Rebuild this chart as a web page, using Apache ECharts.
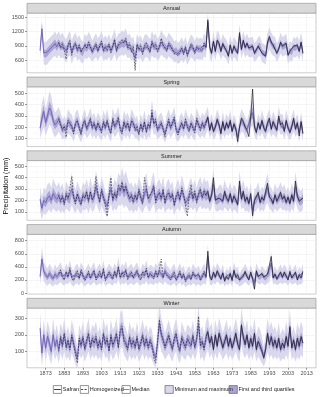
<!DOCTYPE html>
<html>
<head>
<meta charset="utf-8">
<script src="https://cdn.jsdelivr.net/npm/echarts@6/dist/echarts.min.js"></script>
<style>
  html, body { margin: 0; padding: 0; background: #fff; }
  #chart { width: 320px; height: 397px; }
</style>
</head>
<body>
<div id="chart"></div>
<script>
// years: median / bands run 1870-2011, homogenized 1880-1959, Safran 1959-2011
var firstYear = 1870, homStart = 1880, safStart = 1959;
var panelNames = ['Annual', 'Spring', 'Summer', 'Autumn', 'Winter'];
var xTicks = [1873, 1883, 1893, 1903, 1913, 1923, 1933, 1943, 1953, 1963, 1973, 1983, 1993, 2003, 2013];
var xMinor = [1868, 1878, 1888, 1898, 1908, 1918, 1928, 1938, 1948, 1958, 1968, 1978, 1988, 1998, 2008];

// ---- Annual ----
var annualMed = [
  800,1260,750,730,770,820,860,900,950,880,
  960,880,920,860,790,900,960,770,880,930,
  820,880,790,760,900,850,930,880,790,860,
  910,820,890,960,820,870,830,910,800,890,
  990,820,910,930,970,940,1000,880,910,820,
  860,640,900,840,880,780,880,910,860,800,
  960,880,910,820,870,980,910,880,830,930,
  880,840,770,800,740,780,840,760,860,720,
  820,900,860,780,860,830,840,820,920,860,
  1400,860,760,980,800,1000,940,800,930,860,
  820,700,900,760,880,820,760,1120,830,1000,
  860,940,860,870,880,760,800,880,900,760,
  740,700,960,1060,960,900,880,760,840,960,
  880,900,940,720,800,760,880,850,900,800,
  960,760];
var annualRng = [
  200,180,240,240,250,240,250,240,260,250,
  250,240,260,240,250,240,260,250,240,250,
  240,250,240,230,250,240,260,250,230,240,
  250,240,230,260,240,250,230,240,230,250,
  260,240,250,240,260,250,270,240,250,230,
  240,260,250,230,240,230,250,240,230,240,
  260,240,250,230,240,260,240,230,230,250,
  240,230,220,230,220,230,240,220,230,220,
  230,240,230,220,230,220,230,220,240,220,
  200,220,200,230,210,230,220,200,220,210,
  210,200,220,200,210,200,200,230,200,220,
  210,220,200,210,210,200,200,210,210,200,
  200,200,220,230,220,210,210,200,200,220,
  210,210,220,200,200,200,210,200,210,200,
  220,200];
var annualIqr = [
  60,110,80,80,85,80,85,85,90,85,
  85,80,90,80,85,80,90,85,80,85,
  80,85,80,75,85,80,90,85,75,80,
  85,80,75,90,80,85,75,80,75,85,
  90,80,85,80,90,85,95,80,85,75,
  80,90,85,75,80,75,85,80,75,80,
  90,80,85,75,80,90,80,75,75,85,
  80,75,70,75,70,75,80,70,75,70,
  75,80,75,70,75,70,75,70,80,70,
  100,70,65,75,70,75,70,65,70,65,
  65,60,70,60,65,60,60,75,60,70,
  65,70,60,65,65,60,60,65,65,60,
  60,60,70,75,70,65,65,60,60,70,
  65,65,70,60,60,60,65,60,65,60,
  70,60];
var annualHom = [
  980,860,950,800,620,920,1010,700,900,960,
  800,920,760,720,940,860,980,880,760,860,
  940,780,900,1000,780,880,800,940,760,900,
  1040,780,930,960,1020,960,1060,860,940,780,
  880,380,940,820,900,720,900,960,860,760,
  1000,880,940,780,880,1060,920,900,790,960,
  900,820,740,780,700,760,850,720,880,680,
  820,940,880,740,880,820,850,800,960,860];
var annualSaf = [
  870,
  1450,880,740,1000,780,1020,960,780,950,860,
  800,680,920,740,900,800,740,1180,820,1020,
  870,960,850,890,900,740,780,900,920,740,
  720,680,980,1100,980,920,900,740,830,980,
  900,920,960,700,780,740,900,860,920,780,
  980,740];

// ---- Spring ----
var springMed = [
  190,280,340,240,300,370,340,260,220,240,
  270,230,180,200,180,250,230,210,160,230,
  250,200,150,220,250,190,220,260,200,230,
  180,230,200,170,240,200,250,190,160,260,
  210,230,270,190,160,240,200,230,180,250,
  230,190,200,150,220,180,240,170,220,200,
  320,230,250,180,210,230,190,140,210,250,
  200,230,270,180,150,200,230,190,250,210,
  180,230,200,170,260,220,190,230,200,240,
  280,180,230,170,200,260,220,150,240,180,
  230,200,250,170,220,190,110,200,260,240,
  200,180,230,300,330,210,160,230,190,250,
  200,170,230,260,190,240,210,180,280,220,
  230,170,250,200,160,210,260,190,230,150,
  240,150];
var springRng = [
  90,130,140,120,130,150,140,120,110,110,
  110,100,90,100,90,110,100,100,90,100,
  110,100,90,100,110,90,100,110,100,100,
  90,100,100,90,110,100,110,90,90,110,
  100,100,110,90,90,110,100,100,90,110,
  100,90,100,80,100,90,110,90,100,100,
  120,100,110,90,100,100,90,80,100,110,
  100,100,110,90,80,100,100,90,110,100,
  90,100,100,90,110,100,90,100,100,100,
  100,80,90,80,90,100,90,80,100,80,
  90,80,100,80,90,80,70,90,100,90,
  90,80,90,100,120,90,80,90,80,100,
  90,80,90,100,80,100,90,80,100,90,
  90,80,100,90,80,90,100,80,90,80,
  90,80];
var springIqr = [
  35,50,55,45,50,60,55,45,40,40,
  40,38,35,38,35,42,38,38,34,38,
  42,38,34,38,42,34,38,42,38,38,
  34,38,38,34,42,38,42,34,34,42,
  38,38,42,34,34,42,38,38,34,42,
  38,34,38,30,38,34,42,34,38,38,
  46,38,42,34,38,38,34,30,38,42,
  38,38,42,34,30,38,38,34,42,38,
  34,38,38,34,42,38,34,38,38,38,
  36,30,34,30,34,36,34,30,36,30,
  34,30,36,30,34,30,26,34,36,34,
  34,30,34,38,50,34,30,34,30,36,
  34,30,34,36,30,36,34,30,36,34,
  34,30,36,34,30,34,36,30,34,30,
  34,30];
var springHom = [
  280,220,170,210,110,260,240,200,140,240,
  260,190,130,230,260,180,230,280,190,240,
  170,240,190,150,250,190,260,180,140,280,
  200,240,290,170,140,250,190,240,160,260,
  240,170,210,130,230,160,250,150,230,190,
  350,230,270,170,200,240,180,110,200,270,
  190,240,290,170,130,190,240,180,270,200,
  160,240,190,150,280,220,170,240,190,250];
var springSaf = [
  240,
  290,170,240,160,200,270,220,140,250,170,
  240,190,260,160,230,180,70,200,280,250,
  200,170,115,290,540,200,150,240,180,260,
  190,160,240,280,180,250,210,170,300,220,
  240,160,260,190,150,200,280,180,240,120,
  250,140];

// ---- Summer ----
var summerMed = [
  210,130,200,180,220,240,200,260,230,210,
  240,200,230,180,250,220,210,300,230,190,
  250,210,180,240,220,260,200,270,210,230,
  320,250,200,280,230,180,150,240,300,210,
  260,230,300,280,330,270,310,260,220,240,
  200,240,210,280,230,190,260,300,220,210,
  270,310,200,240,260,220,280,190,240,260,
  220,250,170,230,260,210,290,240,180,200,
  240,270,220,260,200,250,280,230,270,240,
  260,200,240,340,210,200,220,230,200,260,
  220,200,250,190,230,210,170,330,220,260,
  200,220,180,240,110,200,210,250,190,220,
  200,260,310,230,210,180,240,200,220,250,
  210,230,190,220,180,240,200,320,230,200,
  190,220];
var summerRng = [
  110,100,110,110,120,120,110,130,120,110,
  120,110,120,100,120,110,110,140,120,100,
  120,110,100,120,110,130,110,130,110,120,
  140,120,110,130,120,100,100,120,130,110,
  130,120,140,130,160,140,150,130,120,120,
  110,120,110,130,120,100,130,140,110,110,
  130,140,110,120,130,110,130,100,120,130,
  110,120,100,110,130,110,130,120,100,100,
  120,130,110,120,110,120,130,110,130,120,
  120,100,110,130,100,100,110,110,100,120,
  100,100,110,100,110,100,90,130,100,120,
  100,110,90,110,80,100,100,110,90,100,
  100,110,130,100,100,90,110,100,100,110,
  100,110,90,100,90,110,100,130,100,100,
  90,100];
var summerIqr = [
  40,38,40,40,45,45,40,48,45,40,
  45,40,45,38,45,40,40,52,45,38,
  45,40,38,45,40,48,40,48,40,45,
  52,45,40,48,45,38,38,45,48,40,
  48,45,52,48,58,52,55,48,45,45,
  40,45,40,48,45,38,48,52,40,40,
  48,52,40,45,48,40,48,38,45,48,
  40,45,38,40,48,40,48,45,38,38,
  45,48,40,45,40,45,48,40,48,45,
  45,38,40,50,38,38,40,40,38,45,
  38,38,40,38,40,38,34,48,38,45,
  38,40,34,40,30,38,38,40,34,38,
  38,40,48,38,38,34,40,38,38,40,
  38,40,34,38,34,40,38,48,38,38,
  34,38];
var summerHom = [
  250,190,240,160,260,210,200,410,230,170,
  260,200,160,250,220,280,190,280,200,240,
  410,260,180,300,220,160,60,250,400,200,
  270,220,330,290,360,280,330,260,210,250,
  180,250,200,300,220,170,400,320,210,200,
  280,330,180,250,270,210,300,170,250,270,
  220,260,150,240,280,200,310,250,160,60,
  250,340,210,280,180,260,300,220,290,240];
var summerSaf = [
  250,
  280,190,250,400,200,190,220,230,190,280,
  220,190,260,180,240,200,160,370,210,280,
  190,230,170,260,65,200,210,270,180,230,
  200,280,350,230,210,170,250,190,230,270,
  210,240,180,230,170,250,190,370,240,190,
  180,220];

// ---- Autumn ----
var autumnMed = [
  250,520,330,280,240,300,260,220,290,250,
  280,320,260,230,300,260,340,250,220,280,
  300,240,320,270,220,260,300,240,280,320,
  230,270,300,250,340,220,260,300,270,240,
  310,260,380,250,300,270,330,240,280,300,
  250,280,320,260,230,300,270,340,250,290,
  280,250,310,270,330,290,250,340,280,260,
  230,270,300,220,260,310,240,280,200,250,
  270,230,300,260,240,280,220,260,300,250,
  560,260,220,300,250,320,280,230,300,200,
  260,230,290,210,330,250,270,200,240,260,
  310,260,220,300,230,160,320,260,240,290,
  250,230,280,300,460,240,280,230,260,300,
  250,300,270,220,310,240,260,300,220,270,
  240,310];
var autumnRng = [
  130,180,150,140,130,150,140,120,150,130,
  140,150,130,120,150,130,160,130,120,140,
  150,130,150,140,120,130,150,130,140,150,
  120,140,150,130,160,120,130,150,140,130,
  150,130,170,130,150,140,160,130,140,150,
  130,140,150,130,120,150,140,160,130,140,
  140,130,150,140,160,140,130,160,140,130,
  120,140,150,120,130,150,130,140,110,130,
  140,120,150,130,130,140,120,130,150,130,
  180,130,110,140,120,140,130,110,140,100,
  120,110,130,110,140,120,130,100,120,120,
  140,120,110,130,110,130,140,120,110,130,
  120,110,130,130,170,110,130,110,120,140,
  120,140,120,110,140,110,120,140,110,130,
  110,140];
var autumnIqr = [
  45,70,55,50,45,55,50,42,55,45,
  50,55,45,42,55,45,58,45,42,50,
  55,45,55,50,42,45,55,45,50,55,
  42,50,55,45,58,42,45,55,50,45,
  55,45,62,45,55,50,58,45,50,55,
  45,50,55,45,42,55,50,58,45,50,
  50,45,55,50,58,50,45,58,50,45,
  42,50,55,42,45,55,45,50,40,45,
  50,42,55,45,45,50,42,45,55,45,
  70,45,40,50,42,50,45,40,50,36,
  42,40,45,40,50,42,45,36,42,42,
  50,42,40,45,40,45,50,42,40,45,
  42,40,45,45,60,40,45,40,42,50,
  42,50,42,40,50,40,42,50,40,45,
  40,50];
var autumnHom = [
  300,350,240,200,330,240,390,230,190,280,
  340,220,360,260,190,240,330,220,300,350,
  200,260,330,230,380,190,250,320,260,210,
  340,240,410,230,320,250,360,210,270,320,
  230,290,350,240,200,320,260,380,230,300,
  290,220,340,250,360,520,230,300,270,240,
  200,260,320,190,250,330,220,290,170,240,
  280,200,320,250,220,290,190,250,330,240];
var autumnSaf = [
  240,
  640,250,200,320,240,340,270,210,310,180,
  250,210,300,190,350,240,280,200,230,260,
  330,250,200,320,210,60,340,250,230,300,
  240,210,290,320,560,230,290,210,270,320,
  240,320,260,200,330,230,250,320,200,280,
  230,330];

// ---- Winter ----
var winterMed = [
  240,90,200,120,190,150,100,200,130,170,
  110,180,140,200,130,160,120,190,150,100,
  60,170,140,180,120,160,200,130,170,150,
  180,130,160,120,200,150,170,110,190,140,
  160,200,130,220,240,170,150,120,180,140,
  160,130,180,120,150,190,140,170,130,160,
  140,90,60,150,270,200,170,130,160,190,
  150,120,170,200,140,110,180,150,130,170,
  160,140,190,130,170,260,140,160,120,180,
  210,150,180,120,190,140,200,170,130,160,
  190,140,170,130,160,200,150,120,250,180,
  150,190,130,170,140,200,120,160,140,110,
  70,120,200,150,180,140,160,130,170,120,
  150,130,180,140,240,130,160,120,170,140,
  180,150];
var winterRng = [
  100,80,90,80,90,90,80,100,80,90,
  80,90,90,100,80,90,80,100,90,80,
  70,90,80,100,80,90,100,80,90,90,
  100,80,90,80,100,90,100,80,100,90,
  90,100,80,110,110,90,90,80,100,90,
  90,80,100,80,90,100,90,90,80,90,
  90,70,60,90,120,100,90,80,90,100,
  90,80,90,100,90,80,100,90,80,90,
  90,90,100,80,90,120,90,90,80,100,
  100,90,90,80,100,90,100,90,80,90,
  100,90,90,80,90,100,90,80,110,100,
  90,100,80,90,90,100,80,90,90,80,
  60,80,100,90,100,90,90,80,100,80,
  90,80,100,90,110,80,90,80,100,90,
  100,90];
var winterIqr = [
  36,30,34,30,34,34,30,36,30,34,
  30,34,34,36,30,34,30,36,34,30,
  26,34,30,36,30,34,36,30,34,34,
  36,30,34,30,36,34,36,30,36,34,
  34,36,30,40,40,34,34,30,36,34,
  34,30,36,30,34,36,34,34,30,34,
  34,26,22,34,44,36,34,30,34,36,
  34,30,34,36,34,30,36,34,30,34,
  34,34,36,30,34,44,34,34,30,36,
  36,34,34,30,36,34,36,34,30,34,
  36,34,34,30,34,36,34,30,40,36,
  34,36,30,34,34,36,30,34,34,30,
  22,30,36,34,36,34,34,30,36,30,
  34,30,36,34,40,30,34,30,36,34,
  36,34];
var winterHom = [
  100,190,130,210,120,170,110,200,140,80,
  30,180,130,190,110,170,210,120,180,150,
  190,120,170,110,210,140,180,100,200,130,
  170,210,120,230,250,160,140,110,190,130,
  170,120,190,110,150,200,130,180,120,170,
  130,60,30,160,290,210,170,120,160,200,
  150,110,180,210,130,100,190,150,120,180,
  170,130,200,120,180,310,130,160,110,190];
var winterSaf = [
  190,
  220,150,190,110,200,130,210,170,120,160,
  200,130,180,120,160,210,140,110,260,190,
  140,200,120,180,130,210,110,160,130,100,
  60,110,210,140,190,130,170,120,180,110,
  150,120,190,130,250,120,170,110,180,130,
  190,150];

// y axis ticks (major / minor)
var annualTicks = [600, 900, 1200, 1500], annualMinor = [450, 750, 1050, 1350];
var springTicks = [100, 200, 300, 400, 500], springMinor = [50, 150, 250, 350, 450, 550];
var summerTicks = [100, 200, 300, 400, 500], summerMinor = [50, 150, 250, 350, 450];
var autumnTicks = [0, 200, 400, 600, 800], autumnMinor = [100, 300, 500, 700];
var winterTicks = [100, 200, 300], winterMinor = [50, 150, 250, 350];

var panels = [
  {med: annualMed, rng: annualRng, iqr: annualIqr, hom: annualHom, saf: annualSaf, ticks: annualTicks, minor: annualMinor, min: 332, max: 1591},
  {med: springMed, rng: springRng, iqr: springIqr, hom: springHom, saf: springSaf, ticks: springTicks, minor: springMinor, min: 26, max: 560},
  {med: summerMed, rng: summerRng, iqr: summerIqr, hom: summerHom, saf: summerSaf, ticks: summerTicks, minor: summerMinor, min: 25, max: 549},
  {med: autumnMed, rng: autumnRng, iqr: autumnIqr, hom: autumnHom, saf: autumnSaf, ticks: autumnTicks, minor: autumnMinor, min: -15, max: 897},
  {med: winterMed, rng: winterRng, iqr: winterIqr, hom: winterHom, saf: winterSaf, ticks: winterTicks, minor: winterMinor, min: 2, max: 360}
];

var FONT = '"Liberation Sans", Arial, sans-serif';
var LIGHT = '#DAD8EC', DARK = '#ABA5D4', MEDC = '#6F61B8';
var plotLeft = 27, plotW = 289, step = 73.75, stripTop = 3.3, stripH = 9.8, plotH = 59.7;

function pairs(start, arr) {
  return arr.map(function (v, i) { return [start + i, v]; });
}
function plain(v) { return String(v); }

// ribbon between lo and hi, drawn as one polygon through the axis scales
function band(k, med, half, color) {
  var rows = med.map(function (m, i) { return [firstYear + i, m - half[i], m + half[i]]; });
  return {
    type: 'custom', xAxisIndex: 2 * k, yAxisIndex: 2 * k, silent: true, clip: true,
    data: rows, encode: {x: 0, y: [1, 2]},
    renderItem: function (params, api) {
      if (params.dataIndex !== 0) return null;
      var pts = [];
      rows.forEach(function (r) { pts.push(api.coord([r[0], r[2]])); });
      for (var i = rows.length - 1; i >= 0; i--) pts.push(api.coord([rows[i][0], rows[i][1]]));
      return {type: 'polygon', shape: {points: pts}, style: {fill: color}};
    }
  };
}

var grids = [], xAxes = [], yAxes = [], series = [], graphics = [];

panels.forEach(function (p, k) {
  var top = stripTop + k * step;
  grids.push({left: plotLeft, top: top + stripH, width: plotW, height: plotH,
    show: true, borderColor: '#A8A8A8', borderWidth: 0.6, backgroundColor: '#fff'});

  var last = k === panels.length - 1;
  xAxes.push({type: 'value', gridIndex: k, min: 1863, max: 2018,
    axisLine: {show: false},
    axisTick: {show: last, customValues: xTicks, length: 2, lineStyle: {color: '#333', width: 0.5}},
    axisLabel: {show: last, customValues: xTicks, formatter: plain, fontSize: 5.5, color: '#4D4D4D', margin: 3, fontFamily: FONT},
    splitLine: {show: true, lineStyle: {color: '#EBEBEB', width: 0.5}}});
  xAxes.push({type: 'value', gridIndex: k, min: 1863, max: 2018,
    axisLine: {show: false},
    axisTick: {show: false, customValues: xMinor},
    axisLabel: {show: false, customValues: xMinor},
    splitLine: {show: true, lineStyle: {color: '#F5F5F5', width: 0.4}}});

  yAxes.push({type: 'value', gridIndex: k, min: p.min, max: p.max,
    axisLine: {show: false},
    axisTick: {show: true, customValues: p.ticks, length: 2, lineStyle: {color: '#333', width: 0.5}},
    axisLabel: {show: true, customValues: p.ticks, formatter: plain, fontSize: 5.5, color: '#4D4D4D', margin: 3, fontFamily: FONT},
    splitLine: {show: true, lineStyle: {color: '#EBEBEB', width: 0.5}}});
  yAxes.push({type: 'value', gridIndex: k, min: p.min, max: p.max,
    axisLine: {show: false},
    axisTick: {show: false, customValues: p.minor},
    axisLabel: {show: false, customValues: p.minor},
    splitLine: {show: true, lineStyle: {color: '#F5F5F5', width: 0.4}}});

  var ax = {xAxisIndex: 2 * k, yAxisIndex: 2 * k, symbol: 'none', silent: true};

  series.push(band(k, p.med, p.rng, LIGHT));   // minimum and maximum
  series.push(band(k, p.med, p.iqr, DARK));    // first and third quartiles
  series.push(Object.assign({type: 'line', lineStyle: {color: MEDC, width: 0.9},
    data: pairs(firstYear, p.med)}, ax));
  series.push(Object.assign({type: 'line', lineStyle: {color: '#1A1A1A', width: 0.6, type: [1.6, 1.4]},
    data: pairs(homStart, p.hom)}, ax));
  series.push(Object.assign({type: 'line', lineStyle: {color: '#1A1A1A', width: 0.7},
    data: pairs(safStart, p.saf)}, ax));

  // facet strip
  graphics.push({type: 'rect', z: 10, shape: {x: plotLeft, y: top, width: plotW, height: stripH},
    style: {fill: '#D9D9D9', stroke: '#8F8F8F', lineWidth: 0.6}});
  graphics.push({type: 'text', z: 11, style: {text: panelNames[k], x: plotLeft + plotW / 2, y: top + stripH / 2 + 0.3,
    align: 'center', verticalAlign: 'middle', fontSize: 5.5, fontFamily: FONT, fill: '#1A1A1A'}});
});

// y axis title
graphics.push({type: 'text', x: 6, y: 186, rotation: Math.PI / 2, z: 11,
  style: {text: 'Precipitation (mm)', align: 'center', verticalAlign: 'middle', fontSize: 7, fontFamily: FONT, fill: '#000'}});

// legend
var legY = 385.6, keyW = 8.3, keyH = 7.8;
var legendItems = [
  {x: 53.3, label: 'Safran', kind: 'solid'},
  {x: 80.3, label: 'Homogenized', kind: 'dashed'},
  {x: 122, label: 'Median', kind: 'median'},
  {x: 165, label: 'Minimum and maximum', kind: 'light'},
  {x: 229, label: 'First and third quartiles', kind: 'dark'}
];
legendItems.forEach(function (it) {
  var fill = it.kind === 'light' ? LIGHT : it.kind === 'dark' ? DARK : '#fff';
  graphics.push({type: 'rect', z: 10, shape: {x: it.x, y: legY, width: keyW, height: keyH},
    style: {fill: fill, stroke: '#4D4D4D', lineWidth: 0.6}});
  if (it.kind === 'solid' || it.kind === 'dashed' || it.kind === 'median') {
    graphics.push({type: 'line', z: 11,
      shape: {x1: it.x + 0.8, y1: legY + keyH / 2, x2: it.x + keyW - 0.8, y2: legY + keyH / 2},
      style: {stroke: it.kind === 'median' ? MEDC : '#111', lineWidth: 0.8,
        lineDash: it.kind === 'dashed' ? [2, 1.5] : null}});
  }
  graphics.push({type: 'text', z: 11, style: {text: it.label, x: it.x + keyW + 1.2, y: legY + keyH / 2 + 0.2,
    align: 'left', verticalAlign: 'middle', fontSize: 5.5, fontFamily: FONT, fill: '#1A1A1A'}});
});

var chart = echarts.init(document.getElementById('chart'), null, {renderer: 'canvas'});
chart.setOption({
  animation: false,
  backgroundColor: '#fff',
  grid: grids,
  xAxis: xAxes,
  yAxis: yAxes,
  series: series,
  graphic: graphics
});
</script>
</body>
</html>
